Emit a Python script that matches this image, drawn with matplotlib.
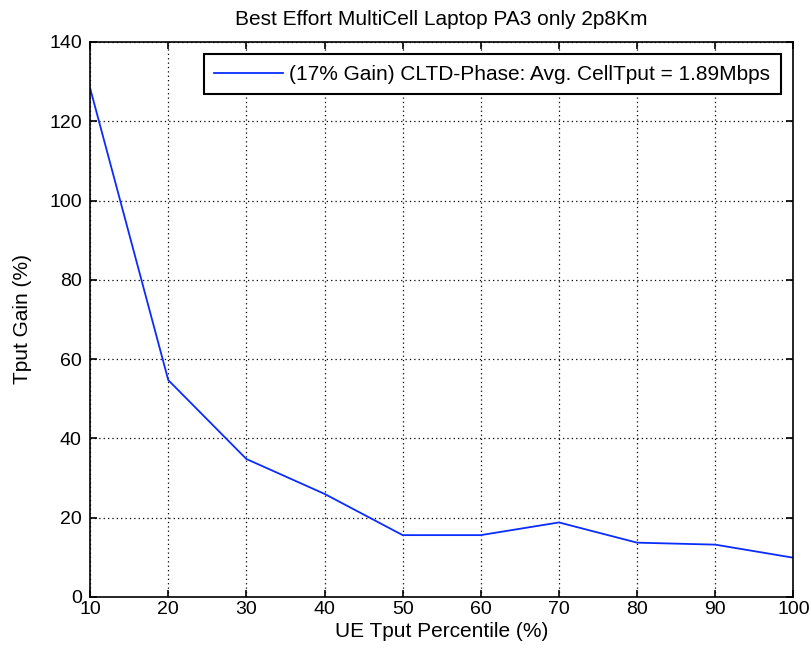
import matplotlib
matplotlib.use("Agg")
import matplotlib.pyplot as plt

plt.rcParams['font.family'] = ['Liberation Sans', 'DejaVu Sans']

percentiles = [10, 20, 30, 40, 50, 60, 70, 80, 90, 100]
gain = [128.3, 54.7, 34.8, 26.0, 15.6, 15.6, 18.8, 13.7, 13.2, 9.9]
xticks = [10, 20, 30, 40, 50, 60, 70, 80, 90, 100]
yticks = [0, 20, 40, 60, 80, 100, 120, 140]
label = "(17% Gain) CLTD-Phase: Avg. CellTput = 1.89Mbps"

fig = plt.figure(figsize=(8.12, 6.53), dpi=100)
ax = fig.add_axes([0.111, 0.0858, 0.866, 0.85])
ax.plot(percentiles, gain, color='#0a2cff', lw=1.3, label=label)
ax.set_xlim(10, 100)
ax.set_ylim(0, 140)
ax.set_xticks(xticks)
ax.set_yticks(yticks)
ax.grid(True, color='black', linestyle=(0, (1, 2.5)), linewidth=0.9)
ax.tick_params(direction='in', top=True, right=True, labelsize=14, length=5, width=1.2)
ax.tick_params(axis='x', pad=3)
ax.tick_params(axis='y', pad=6)
for s in ax.spines.values():
    s.set_linewidth(1.2)
ax.set_xlabel("UE Tput Percentile (%)", fontsize=15, labelpad=3)
ax.set_ylabel("Tput Gain (%)", fontsize=15, labelpad=12)
ax.set_title("Best Effort MultiCell Laptop PA3 only 2p8Km", fontsize=15, pad=12)
leg = ax.legend(loc='upper right', fontsize=15, fancybox=False, framealpha=1,
                edgecolor='black', handlelength=3.3, handletextpad=0.3,
                borderpad=0.5, borderaxespad=0.6)
leg.get_frame().set_linewidth(1.5)
fig.savefig("out.png", dpi=100)
